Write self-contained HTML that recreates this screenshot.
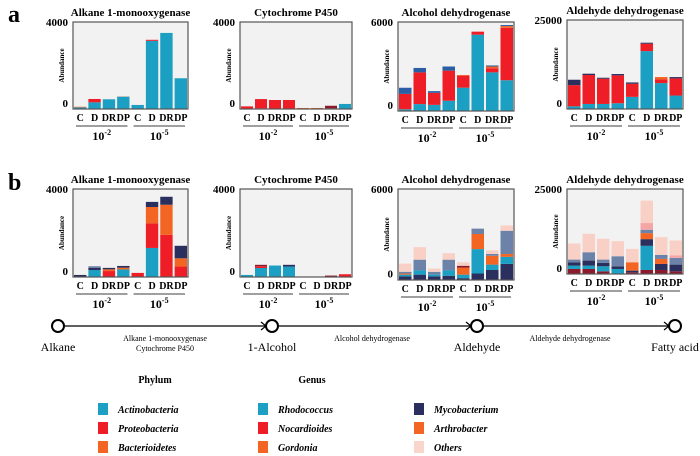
<!DOCTYPE html>
<html><head><meta charset="utf-8"><style>
body{margin:0;background:#fff}
svg{display:block;font-family:"Liberation Serif",serif}
</style></head><body>
<svg id="fig" width="700" height="456" viewBox="0 0 700 456">
<text x="8" y="22" font-size="24" font-weight="bold">a</text>
<text x="8" y="190" font-size="24" font-weight="bold">b</text>
<g id="charts"></g>
<g>
<line x1="64" y1="326" x2="266" y2="326" stroke="#000" stroke-width="1.2"/>
<line x1="278" y1="326" x2="471" y2="326" stroke="#000" stroke-width="1.2"/>
<line x1="483" y1="326" x2="669" y2="326" stroke="#000" stroke-width="1.2"/>
<polyline points="261,322 266,326 261,330" fill="none" stroke="#000" stroke-width="1.2"/>
<polyline points="466,322 471,326 466,330" fill="none" stroke="#000" stroke-width="1.2"/>
<polyline points="664,322 669,326 664,330" fill="none" stroke="#000" stroke-width="1.2"/>
<circle cx="58" cy="326" r="6" fill="#fff" stroke="#000" stroke-width="2"/>
<circle cx="272" cy="326" r="6" fill="#fff" stroke="#000" stroke-width="2"/>
<circle cx="477" cy="326" r="6" fill="#fff" stroke="#000" stroke-width="2"/>
<circle cx="675" cy="326" r="6" fill="#fff" stroke="#000" stroke-width="2"/>
<g font-size="12" text-anchor="middle">
<text x="58" y="351">Alkane</text>
<text x="272" y="351">1-Alcohol</text>
<text x="477" y="351">Aldehyde</text>
<text x="675" y="351">Fatty acid</text>
</g>
<g font-size="8" text-anchor="middle">
<text x="165" y="341">Alkane 1-monooxygenase</text>
<text x="165" y="351">Cytochrome P450</text>
<text x="372" y="341">Alcohol dehydrogenase</text>
<text x="570" y="341">Aldehyde dehydrogenase</text>
</g>
</g>
<g font-size="10" font-weight="bold">
<text x="155" y="383" text-anchor="middle">Phylum</text>
<text x="312" y="383" text-anchor="middle">Genus</text>
<g font-style="italic">
<rect x="98" y="403" width="10" height="12" fill="#1b9fc2"/><text x="118" y="413">Actinobacteria</text>
<rect x="98" y="422" width="10" height="12" fill="#ee1d26"/><text x="118" y="432">Proteobacteria</text>
<rect x="98" y="441" width="10" height="12" fill="#f26522"/><text x="118" y="451">Bacterioidetes</text>
<rect x="258" y="403" width="10" height="12" fill="#1b9fc2"/><text x="278" y="413">Rhodococcus</text>
<rect x="258" y="422" width="10" height="12" fill="#ee1d26"/><text x="278" y="432">Nocardioides</text>
<rect x="258" y="441" width="10" height="12" fill="#f26522"/><text x="278" y="451">Gordonia</text>
<rect x="414" y="403" width="10" height="12" fill="#2b2f5e"/><text x="434" y="413">Mycobacterium</text>
<rect x="414" y="422" width="10" height="12" fill="#f26522"/><text x="434" y="432">Arthrobacter</text>
<rect x="414" y="441" width="10" height="12" fill="#f9d5cc"/><text x="434" y="451">Others</text>
</g>
</g>
</svg>
<script>
const categories = ["C","D","DR","DP","C","D","DR","DP"];
const groupLabels = ["-2","-5"];
// Panel a (phylum)
const a1Actino = [80,330,480,610,200,3370,3760,1520];
const a1Proteo = [0,165,0,0,0,50,0,0];
const a1Bacter = [30,0,0,10,0,0,0,0];
const a2Actino = [0,30,0,0,0,0,30,250];
const a2Proteo = [130,460,445,445,0,0,0,0];
const a2Bacter = [0,0,0,0,50,50,0,0];
const a2Other = [0,0,0,0,0,0,130,0];
const a3Actino = [125,500,445,745,1690,5530,2800,2230];
const a3Proteo = [1115,2300,870,2180,870,220,300,3800];
const a3Bacter = [0,0,0,0,50,0,125,125];
const a3Other = [445,320,125,300,0,0,75,75];
const a4Actino = [810,1520,1520,1730,3660,17480,7820,4060];
const a4Proteo = [6400,8740,7620,8430,3960,2240,1120,5180];
const a4Bacter = [0,0,0,0,0,0,710,0];
const a4Other = [1625,400,300,400,400,300,0,400];
// Panel b (genus)
const b1Rhodo = [0,340,0,370,0,1420,0,0];
const b1Nocard = [0,0,290,0,200,1200,2060,510];
const b1Gordon = [0,0,85,85,0,800,1470,405];
const b1Myco = [100,100,70,85,0,250,390,610];
const b1Others = [0,85,0,0,0,0,0,0];
const b2Rhodo = [100,440,560,510,0,0,0,0];
const b2Nocard = [0,85,0,0,0,0,0,135];
const b2DarkRed = [0,70,0,0,15,15,70,0];
const b2Myco = [0,0,0,85,0,0,0,0];
const b3Myco = [254,380,254,300,130,460,710,1140];
const b3Rhodo = [127,300,127,380,250,1730,380,500];
const b3Gordon = [76,0,0,0,500,1070,630,200];
const b3DarkRed = [0,0,0,0,130,0,0,0];
const b3Slate = [127,760,200,760,0,380,130,1650];
const b3Others = [580,890,230,460,250,0,250,380];
const b4DarkRed = [1590,1590,850,0,530,1270,1270,850];
const b4Rhodo = [1060,1060,1590,1590,0,7630,0,0];
const b4Myco = [1060,1590,1060,850,530,2120,1910,2120];
const b4Gordon = [0,0,0,0,2650,1910,1590,0];
const b4Slate = [850,2650,1060,3180,0,1060,1270,2120];
const b4LightPink = [0,0,0,0,0,2120,0,850];
const b4Others = [5090,5830,6570,4770,4240,7100,5620,4660];

const C = {teal:"#1b9fc2",red:"#ee1d26",orange:"#f26522",blue:"#2a5fa5",navy:"#2b2f5e",dred:"#8c1a2c",slate:"#6d82a8",lpink:"#f4a6a6",pink:"#f9d0c6"};
const charts = [
 {name:"a-alkane",title:"Alkane 1-monooxygenase",f:[73,22,115,87],max:4000,series:[[a1Actino,C.teal],[a1Proteo,C.red],[a1Bacter,C.orange]]},
 {name:"a-cyp450",title:"Cytochrome P450",f:[240,22,112,87],max:4000,series:[[a2Actino,C.teal],[a2Proteo,C.red],[a2Bacter,C.orange],[a2Other,C.dred]]},
 {name:"a-alcohol",title:"Alcohol dehydrogenase",f:[398,22,116,89],max:6000,series:[[a3Actino,C.teal],[a3Proteo,C.red],[a3Bacter,C.orange],[a3Other,C.blue]]},
 {name:"a-aldehyde",title:"Aldehyde dehydrogenase",f:[567,20,116,89],max:25000,series:[[a4Actino,C.teal],[a4Proteo,C.red],[a4Bacter,C.orange],[a4Other,C.navy]]},
 {name:"b-alkane",title:"Alkane 1-monooxygenase",f:[73,189,115,88],max:4000,series:[[b1Rhodo,C.teal],[b1Nocard,C.red],[b1Gordon,C.orange],[b1Myco,C.navy],[b1Others,C.slate]]},
 {name:"b-cyp450",title:"Cytochrome P450",f:[240,189,112,88],max:4000,series:[[b2Rhodo,C.teal],[b2Nocard,C.red],[b2DarkRed,C.dred],[b2Myco,C.navy]]},
 {name:"b-alcohol",title:"Alcohol dehydrogenase",f:[398,189,116,91],max:6000,series:[[b3Myco,C.navy],[b3Rhodo,C.teal],[b3Gordon,C.orange],[b3DarkRed,C.dred],[b3Slate,C.slate],[b3Others,C.pink]]},
 {name:"b-aldehyde",title:"Aldehyde dehydrogenase",f:[567,189,116,85],max:25000,series:[[b4DarkRed,C.dred],[b4Rhodo,C.teal],[b4Myco,C.navy],[b4Gordon,C.orange],[b4Slate,C.slate],[b4LightPink,C.lpink],[b4Others,C.pink]]}
];
const NS="http://www.w3.org/2000/svg";
const root=document.getElementById("charts");
function mk(tag,attrs,parent,txt){const e=document.createElementNS(NS,tag);for(const k in attrs)e.setAttribute(k,attrs[k]);if(txt!==undefined)e.textContent=txt;parent.appendChild(e);return e;}
charts.forEach(ch=>{
 const [x,y,w,h]=ch.f;
 const min=-0.075*ch.max;
 const yS=v=>y+h-(v-min)/(ch.max-min)*h;
 const hS=v=>v/(ch.max-min)*h;
 const g=mk("g",{},root);
 
 
 const fr=mk("rect",{x:x,y:y,width:w,height:h,fill:"#f2f2f2"},g);
 
 
 const t=mk("text",{x:x+w/2,y:y-6,"text-anchor":"middle","font-size":"11","font-weight":"bold"},g,ch.title);
 
 
 const n=categories.length, slot=w/n, bw=slot-2;
 categories.forEach((c,i)=>{
  let acc=min;
  const bx=x+i*slot+1;
  ch.series.forEach(([arr,col],si)=>{
   const v=arr[i]; if(!v) return;
   const r=mk("rect",{x:bx,y:yS(acc+v),width:bw,height:hS(v),fill:col},g);
   
   
   acc+=v;
  });
  const cl=mk("text",{x:bx+bw/2,y:y+h+12,"text-anchor":"middle","font-size":"10","font-weight":"bold"},g,c);
  
  
 });
 mk("rect",{x:x,y:y,width:w,height:h,fill:"none",stroke:"#555","stroke-width":"1.2"},g);
 groupLabels.forEach((gl,gi)=>{
  const gx=x+gi*w/2;
  const ln=mk("line",{x1:gx+3,x2:gx+w/2-3,y1:y+h+17,y2:y+h+17,stroke:"#666","stroke-width":"1.2"},g);
  
  
  const tx=mk("text",{x:gx+w/4,y:y+h+31,"text-anchor":"middle","font-size":"12","font-weight":"bold"},g);
  
  
  mk("tspan",{},tx,"10");
  mk("tspan",{dy:"-5","font-size":"8"},tx,gl);
 });
 [0,ch.max].forEach(tv=>{
  const tk=mk("text",{x:x-5,y:yS(tv)+4,"text-anchor":"end","font-size":"11","font-weight":"bold"},g,String(tv));
  
  
 });
 const yl=mk("text",{transform:`translate(${x-9},${y+h/2}) rotate(-90)`,"text-anchor":"middle","font-size":"7","font-weight":"bold"},g,"Abundance");
 
 
});
</script>
</body></html>
